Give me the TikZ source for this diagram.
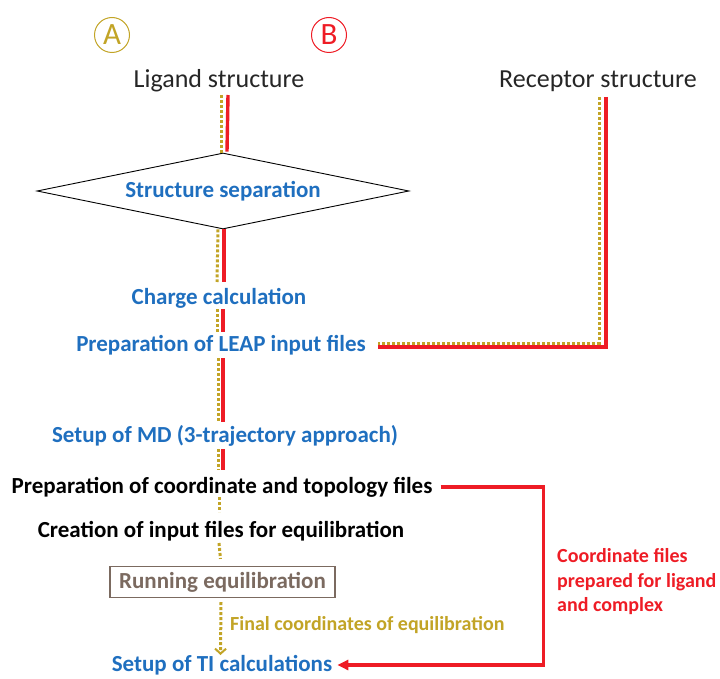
\documentclass[tikz,border=0pt]{standalone}
\usepackage{fontspec}
\setmainfont{Carlito}
\usetikzlibrary{shapes.geometric,arrows.meta}
\definecolor{cblue}{HTML}{1F6FBF}
\definecolor{cred}{HTML}{EE1C25}
\definecolor{cgold}{HTML}{C2A426}
\definecolor{cbrown}{HTML}{7B6A60}
\definecolor{cdark}{HTML}{262626}
\tikzset{
  bluetxt/.style={text=cblue, font=\fontsize{23}{27}\selectfont\bfseries, inner sep=0pt},
  blacktxt/.style={text=black, font=\fontsize{23}{27}\selectfont\bfseries, inner sep=0pt},
  plaintxt/.style={text=cdark, font=\fontsize{26}{30}\selectfont, inner sep=0pt},
  letter/.style={circle, draw, line width=1pt, minimum size=35pt, inner sep=0pt, font=\fontsize{31}{35}\selectfont},
  goldline/.style={cgold, line width=3pt, dash pattern=on 3pt off 2pt},
  redline/.style={cred, line width=3.4pt},
}
\begin{document}
\begin{tikzpicture}[x=1pt,y=-1pt]
\useasboundingbox (0,0) rectangle (720,679);
% header letters
\node[letter, draw=cgold, text=cgold] (A) at (112,35) {A};
\node[letter, draw=cred, text=cred] (B) at (329,35) {B};
% inputs
\node[plaintxt] (lig) at (219,81) {Ligand structure};
\node[plaintxt] (rec) at (598,81) {Receptor structure};
% diamond
\node[diamond, draw=black, line width=0.9pt, aspect=4.9, minimum width=372pt, minimum height=76pt, inner sep=0pt, bluetxt] (sep) at (223,191) {Structure separation};
% steps
\node[bluetxt] (charge) at (219,298) {Charge calculation};
\node[bluetxt] (leap) at (221,345) {Preparation of LEAP input files};
\node[bluetxt] (md) at (225,436) {Setup of MD (3-trajectory approach)};
\node[blacktxt] (coord) at (222,487) {Preparation of coordinate and topology files};
\node[blacktxt] (create) at (221,531) {Creation of input files for equilibration};
\node[draw=cbrown, line width=1.2pt, minimum width=225pt, minimum height=31pt, inner sep=0pt, text=cbrown, font=\fontsize{23}{27}\selectfont\bfseries] (run) at (222.5,582) {Running equilibration};
\node[text=cgold, font=\fontsize{20}{24}\selectfont\bfseries, inner sep=0pt, anchor=west] (final) at (230,625) {Final coordinates of equilibration};
\node[bluetxt] (ti) at (222,665) {Setup of TI calculations};
\node[text=cred, font=\fontsize{20}{24.5}\selectfont\bfseries, align=left, anchor=west, inner sep=0pt] (note) at (557,582) {Coordinate files\\prepared for ligand\\and complex};
% spine: ligand -> diamond
\draw[goldline] ([xshift=2pt,yshift=-14pt]lig.center) -- ([xshift=-2pt]sep.north);
\draw[redline] ([xshift=9pt,yshift=-14pt]lig.center) -- ([xshift=4pt,yshift=1pt]sep.north);
% diamond -> charge
\draw[goldline] ([xshift=-5pt]sep.south) -- ([xshift=-2pt,yshift=16pt]charge.center);
\draw[redline] ([xshift=1pt]sep.south) -- ([xshift=5pt,yshift=16pt]charge.center);
% charge -> leap
\draw[goldline] ([xshift=-2pt,yshift=-11pt]charge.center) -- ([xshift=-4pt,yshift=13pt]leap.center);
\draw[redline] ([xshift=4pt,yshift=-11pt]charge.center) -- ([xshift=2pt,yshift=13pt]leap.center);
% leap -> md
\draw[goldline] ([xshift=-3pt,yshift=-13pt]leap.center) -- ([xshift=-7pt,yshift=14pt]md.center);
\draw[redline] ([xshift=2pt,yshift=-13pt]leap.center) -- ([xshift=-2pt,yshift=14pt]md.center);
% md -> coord
\draw[goldline] ([xshift=-7pt,yshift=-13pt]md.center) -- ([xshift=-4pt,yshift=17pt]coord.center);
\draw[redline] ([xshift=-2pt,yshift=-13pt]md.center) -- ([xshift=1pt,yshift=17pt]coord.center);
% coord -> create
\draw[goldline] ([xshift=-3pt,yshift=-10pt]coord.center) -- ([xshift=-2pt,yshift=19pt]create.center);
% create -> run
\draw[goldline] ([xshift=-2pt,yshift=-12pt]create.center) -- ([xshift=-2pt,yshift=7pt]run.north);
% run -> ti
\draw[goldline, -{Straight Barb[length=5pt,width=11pt,line width=2pt]}] ([xshift=-1.5pt,yshift=-4pt]run.south) -- ([xshift=-1.5pt,yshift=10pt]ti.center);
% receptor -> leap
\draw[goldline] ([xshift=1pt,yshift=-16pt]rec.center) |- ([xshift=12pt,yshift=2pt]leap.east);
\draw[redline] ([xshift=8pt,yshift=-16pt]rec.center) |- ([xshift=12pt,yshift=-2pt]leap.east);
% coord -> ti (red)
\draw[redline, -{Triangle[length=11pt,width=10pt]}] ([xshift=8pt]coord.east) -- ++(103,0) |- ([xshift=5pt]ti.east);
\end{tikzpicture}
\end{document}
